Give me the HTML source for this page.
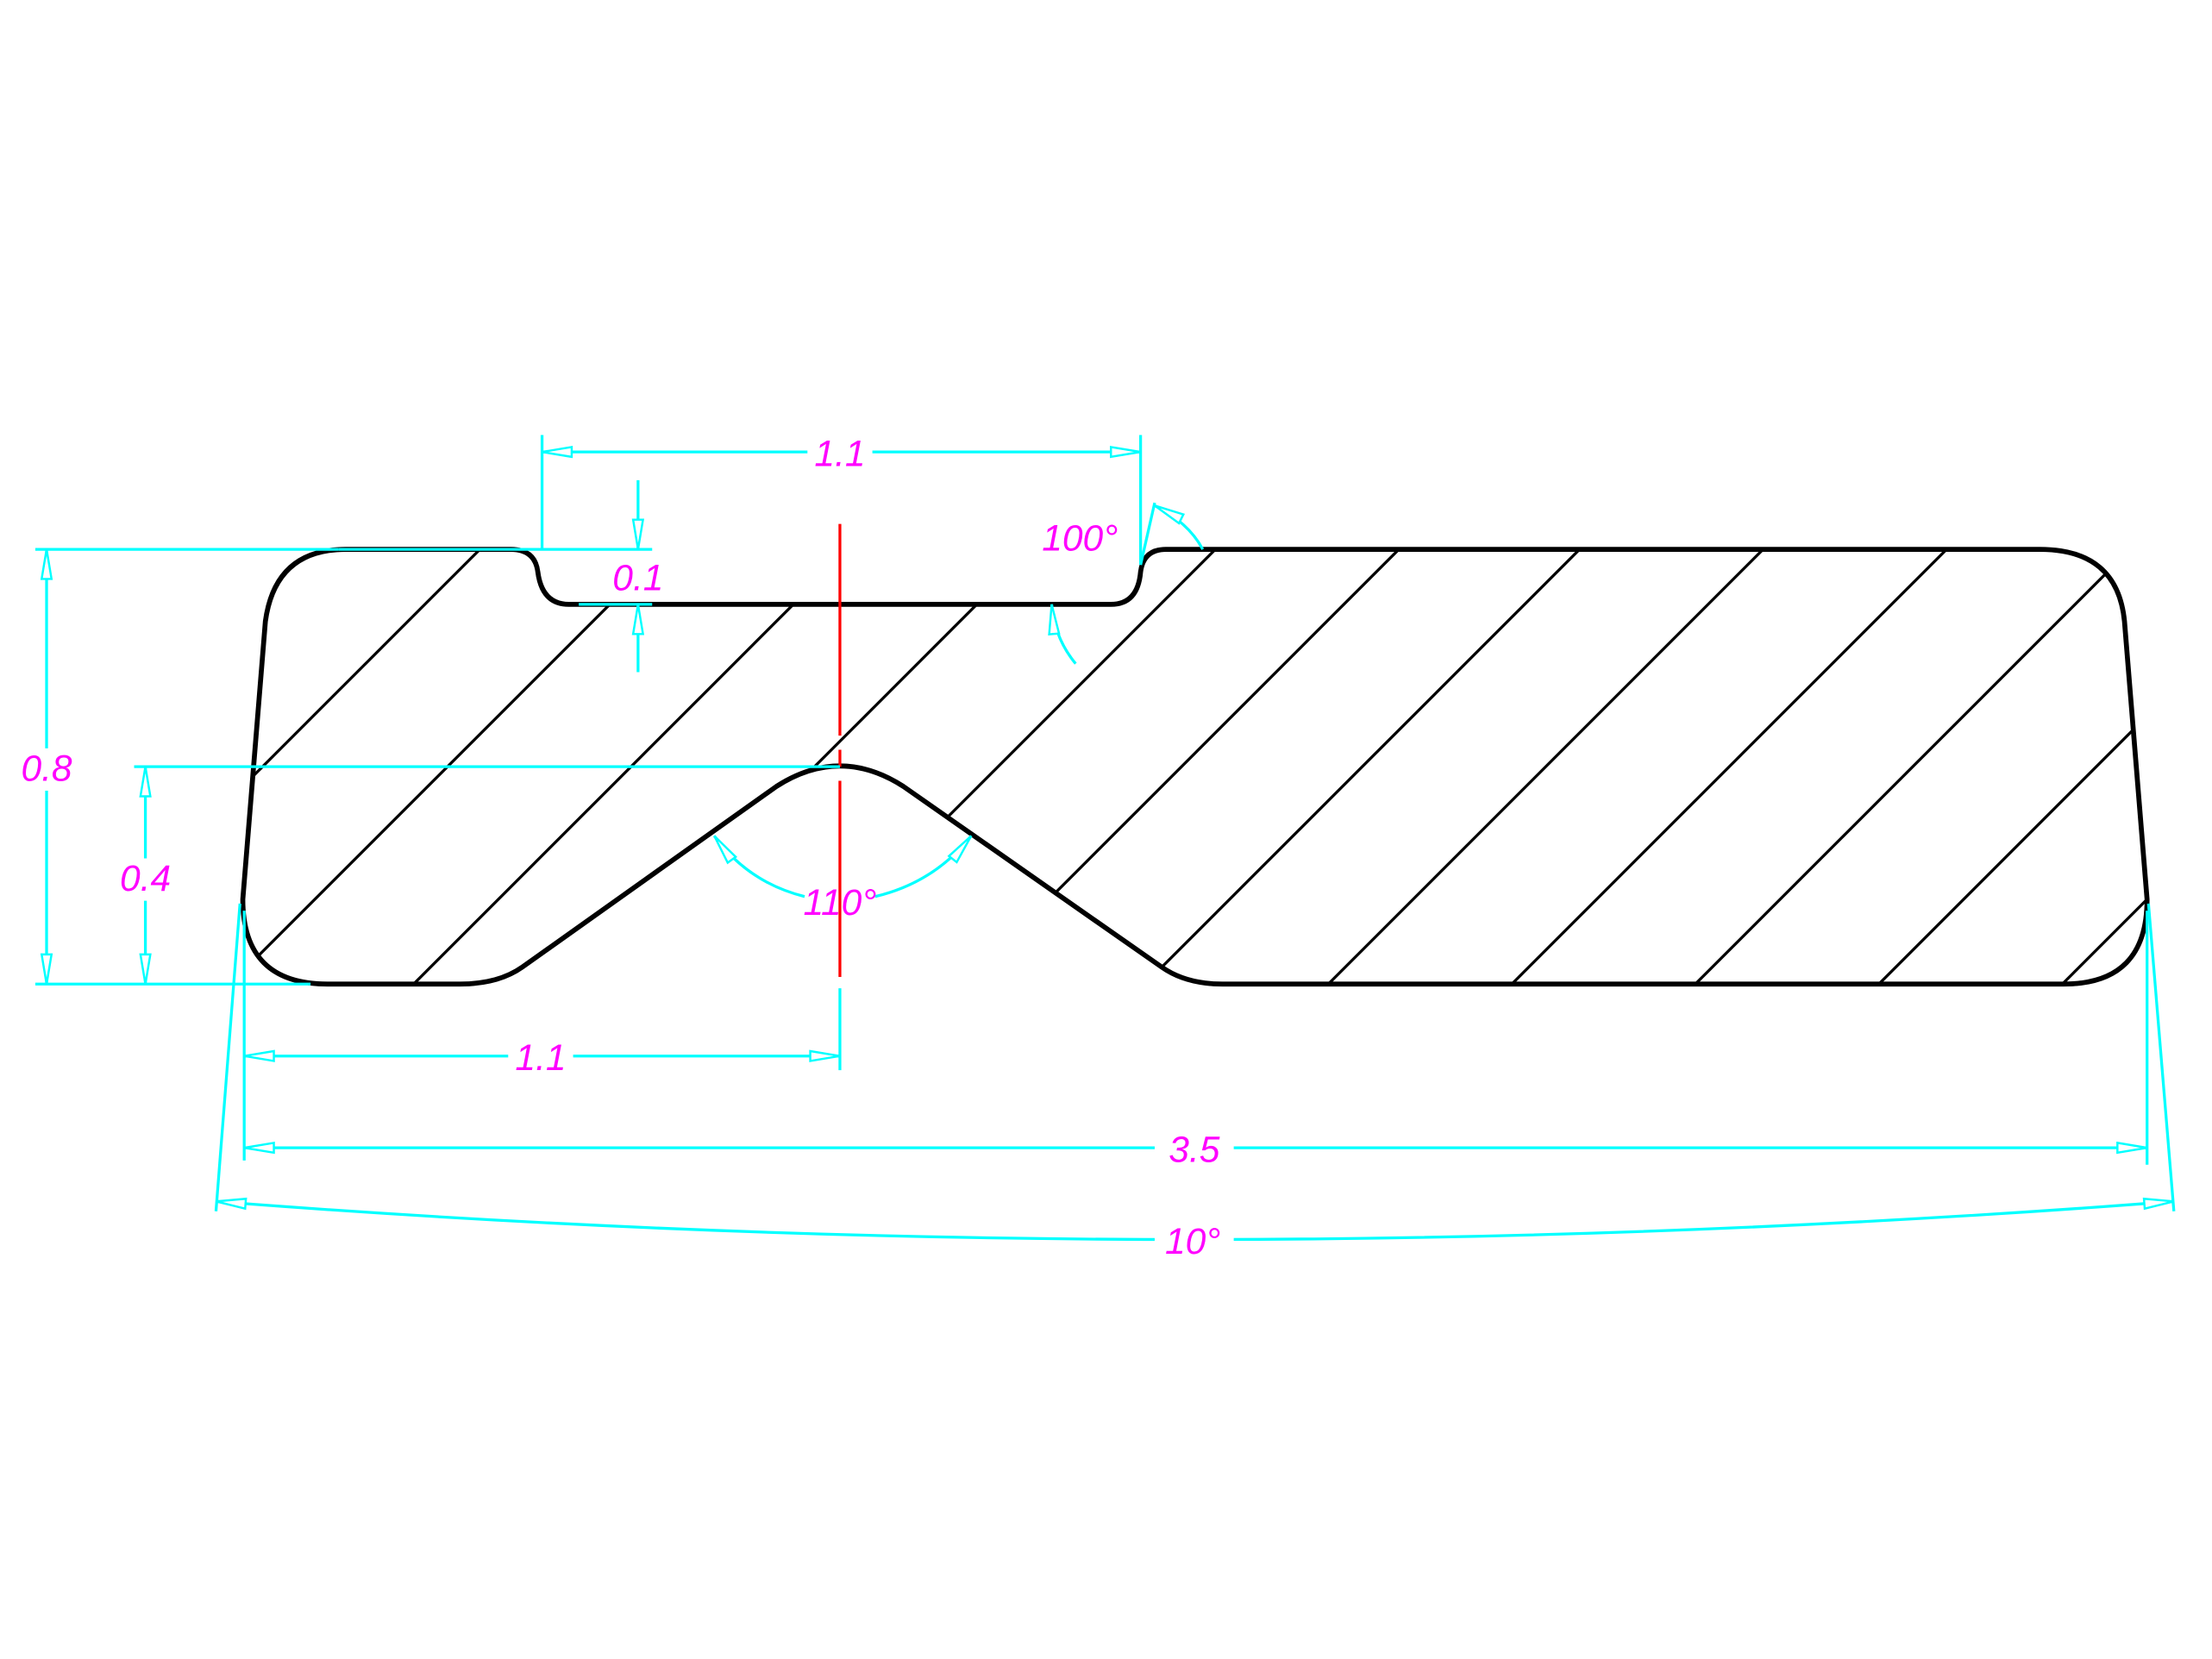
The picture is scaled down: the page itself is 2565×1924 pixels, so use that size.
<!DOCTYPE html>
<html><head><meta charset="utf-8"><style>
html,body{margin:0;padding:0;background:#fff;width:2565px;height:1924px;overflow:hidden;}
svg{display:block;}
text{font-family:"Liberation Sans",sans-serif;font-style:italic;fill:#ff00ff;font-size:26px;text-anchor:middle;}
</style></head><body>
<svg width="2565" height="1924" viewBox="0 0 1567 1175" xmlns="http://www.w3.org/2000/svg">
<defs>
<marker id="a" markerUnits="userSpaceOnUse" markerWidth="26" markerHeight="12" refX="22" refY="5" orient="auto-start-reverse" viewBox="0 0 26 10">
<path d="M1,1.5 L22,5 L1,8.5 Z" fill="#fff" stroke="#00ffff" stroke-width="1.5"/>
</marker>
<clipPath id="c"><path id="shp" d="M245,389 L362,389 Q379,389 381,405 Q384,428 403,428 L787,428 Q806,428 808,405 Q810,389 826,389 L1445,389 Q1500,389 1505,440 L1521,637 Q1521,697 1462,697 L866,697 Q840,697 823,685 L640,557 Q595,528 550,557 L370,685 Q353,697 326,697 L232,697 Q172,697 172,637 L188,440 Q195,389 245,389 Z"/></clipPath>
</defs>
<g clip-path="url(#c)" stroke="#000" stroke-width="2">
<line x1="0" y1="729" x2="729" y2="0"/>
<line x1="0" y1="860" x2="860" y2="0"/>
<line x1="0" y1="990" x2="990" y2="0"/>
<line x1="0" y1="1120" x2="1120" y2="0"/>
<line x1="0" y1="1250" x2="1250" y2="0"/>
<line x1="0" y1="1380" x2="1380" y2="0"/>
<line x1="0" y1="1508" x2="1508" y2="0"/>
<line x1="0" y1="1638" x2="1638" y2="0"/>
<line x1="0" y1="1768" x2="1768" y2="0"/>
<line x1="0" y1="1898" x2="1898" y2="0"/>
<line x1="0" y1="2028" x2="2028" y2="0"/>
<line x1="0" y1="2158" x2="2158" y2="0"/>
</g>
<use href="#shp" fill="none" stroke="#000" stroke-width="3.5"/>
<line x1="595" y1="371" x2="595" y2="692" stroke="#ff0000" stroke-width="2" stroke-dasharray="150,10,12,10"/>
<g stroke="#00ffff" stroke-width="2" fill="none">
<line x1="384" y1="308" x2="384" y2="389"/><line x1="808" y1="308" x2="808" y2="400"/>
<line x1="384" y1="320" x2="808" y2="320" marker-start="url(#a)" marker-end="url(#a)"/>
<line x1="240" y1="389" x2="462" y2="389"/><line x1="410" y1="428" x2="462" y2="428"/>
<line x1="452" y1="340" x2="452" y2="389" marker-end="url(#a)"/>
<line x1="452" y1="476" x2="452" y2="428" marker-end="url(#a)"/>
<line x1="808" y1="400" x2="818" y2="356"/>
<path d="M818,358 Q842,370 852,389" marker-start="url(#a)"/>
<path d="M762,470 Q747,452 745,428" marker-end="url(#a)"/>
<line x1="25" y1="389" x2="240" y2="389"/><line x1="25" y1="697" x2="220" y2="697"/>
<line x1="33" y1="389" x2="33" y2="530" marker-start="url(#a)"/>
<line x1="33" y1="560" x2="33" y2="697" marker-end="url(#a)"/>
<line x1="95" y1="543" x2="595" y2="543"/>
<line x1="103" y1="543" x2="103" y2="608" marker-start="url(#a)"/>
<line x1="103" y1="638" x2="103" y2="697" marker-end="url(#a)"/>
<path d="M506,592 Q530,625 570,635" marker-start="url(#a)"/>
<path d="M620,635 Q662,625 688,592" marker-end="url(#a)"/>
<line x1="173" y1="645" x2="173" y2="822"/><line x1="595" y1="700" x2="595" y2="758"/>
<line x1="173" y1="748" x2="595" y2="748" marker-start="url(#a)" marker-end="url(#a)"/>
<line x1="1521" y1="645" x2="1521" y2="825"/>
<line x1="173" y1="813" x2="1521" y2="813" marker-start="url(#a)" marker-end="url(#a)"/>
<line x1="170" y1="640" x2="153" y2="858"/><line x1="1522" y1="640" x2="1540" y2="858"/>
<path d="M153,851 Q500,878 845,878 Q1190,878 1540,851" marker-start="url(#a)" marker-end="url(#a)"/>
</g>
<g>
<rect x="572" y="308" width="46" height="24" fill="#fff"/>
<text x="595" y="330">1.1</text>
<text x="452" y="418">0.1</text>
<text x="765" y="390">100°</text>
<text x="33" y="553">0.8</text>
<text x="103" y="631">0.4</text>
<text x="595" y="648">110°</text>
<rect x="360" y="736" width="46" height="24" fill="#fff"/>
<text x="383" y="758">1.1</text>
<rect x="818" y="800" width="56" height="24" fill="#fff"/>
<text x="846" y="823">3.5</text>
<rect x="818" y="866" width="56" height="24" fill="#fff"/>
<text x="845" y="888">10°</text>
</g>
</svg>
</body></html>
